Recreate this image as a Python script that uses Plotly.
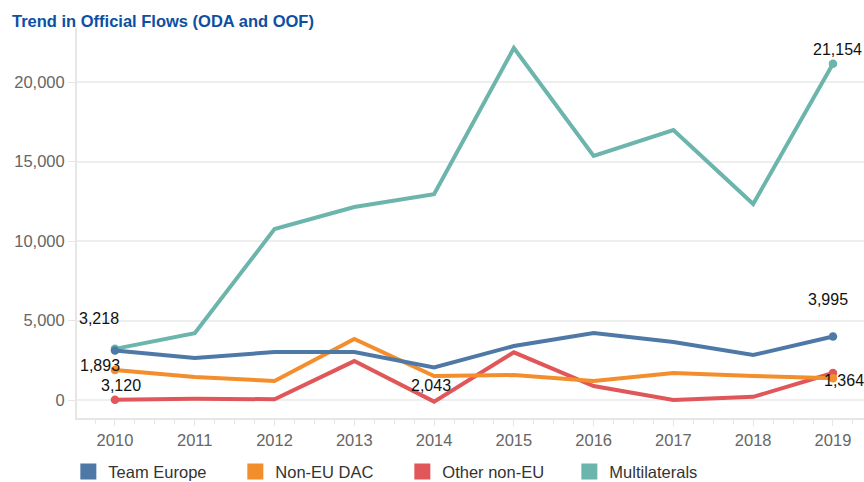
import plotly.graph_objects as go

years = [2010, 2011, 2012, 2013, 2014, 2015, 2016, 2017, 2018, 2019]
team_europe = [3120, 2640, 3020, 3020, 2043, 3400, 4210, 3650, 2830, 3995]
non_eu_dac = [1893, 1450, 1200, 3840, 1510, 1570, 1200, 1700, 1510, 1364]
other_non_eu = [20, 80, 50, 2450, -100, 3000, 880, 0, 200, 1700]
multilaterals = [3218, 4200, 10750, 12140, 12950, 22140, 15350, 16980, 12330, 21154]

series = [
    ("Team Europe", team_europe, "#4e79a7"),
    ("Non-EU DAC", non_eu_dac, "#f28e2b"),
    ("Other non-EU", other_non_eu, "#e15759"),
    ("Multilaterals", multilaterals, "#6cb5ac"),
]

# label texts and their placement (data coords)
labels = [
    ("3,218", 2009.80, 5126),
    ("1,893", 2009.81, 2201),
    ("3,120", 2010.075, 912),
    ("2,043", 2013.96, 943),
    ("3,995", 2018.94, 6352),
    ("21,154", 2019.056, 22075),
    ("1,364", 2019.14, 1258),
]

fig = go.Figure()
order = [3, 2, 1, 0]
for i in order:
    name, vals, col = series[i]
    fig.add_trace(go.Scatter(
        x=years, y=vals, mode="lines", name=name,
        line=dict(color=col, width=4),
        showlegend=False, hoverinfo="x+y+name",
    ))
    fig.add_trace(go.Scatter(
        x=[years[0], years[-1]], y=[vals[0], vals[-1]], mode="markers", name=name,
        marker=dict(size=8.5, color=col, opacity=1, line=dict(width=0)),
        showlegend=False, hoverinfo="x+y+name",
    ))
for name, vals, col in series:
    fig.add_trace(go.Scatter(
        x=[None], y=[None], mode="markers", name=name,
        marker=dict(symbol="square", size=20, color=col, line=dict(width=0)),
        showlegend=True,
    ))

for t, x, y in labels:
    fig.add_annotation(x=x, y=y, text=t, showarrow=False,
                       font=dict(size=16, color="#111111"))

fig.add_shape(type="line", xref="paper", x0=0, x1=1, yref="y", y0=0, y1=0,
              line=dict(color="#aaaaaa", width=1, dash="dot"), layer="below")

fig.update_layout(
    width=864, height=482,
    margin=dict(l=77, r=0, t=28, b=64, autoexpand=False),
    paper_bgcolor="white", plot_bgcolor="white",
    font=dict(family="Liberation Sans, Arial, sans-serif", color="#333333"),
    title=dict(text="<b>Trend in Official Flows (ODA and OOF)</b>",
               x=0.0139, xanchor="left", y=0.955, yanchor="middle",
               font=dict(size=16.5, color="#0d4fa3")),
    xaxis=dict(range=[2009.524, 2019.389], tickvals=years,
               ticktext=[str(y) for y in years],
               showgrid=False, zeroline=False,
               showline=True, linecolor="#e6e6e6", linewidth=2,
               ticks="outside", ticklen=6, tickcolor="#e6e6e6",
               minor=dict(ticks="outside", ticklen=4, tickcolor="#e6e6e6",
                          tickvals=[y + d for y in range(2009, 2020) for d in (0.25, 0.5, 0.75)]),
               tickfont=dict(size=16.5, color="#666666")),
    yaxis=dict(range=[-1130, 23400], tickvals=[0, 5000, 10000, 15000, 20000],
               ticktext=["0", "5,000", "10,000", "15,000", "20,000"],
               showgrid=True, gridcolor="#eeeeee", gridwidth=2,
               zeroline=False,
               showline=True, linecolor="#e6e6e6", linewidth=2,
               ticks="outside", ticklen=7, tickcolor="#e6e6e6",
               tickfont=dict(size=16.5, color="#666666")),
    legend=dict(orientation="h", x=-0.011, xanchor="left", y=-0.138, yanchor="middle",
                font=dict(size=16.5, color="#333333"), entrywidth=122),
    hovermode="closest",
)

fig.write_html("out.html", config={"displayModeBar": False},
               post_script="document.body.style.margin='0';document.body.style.overflow='hidden';")
